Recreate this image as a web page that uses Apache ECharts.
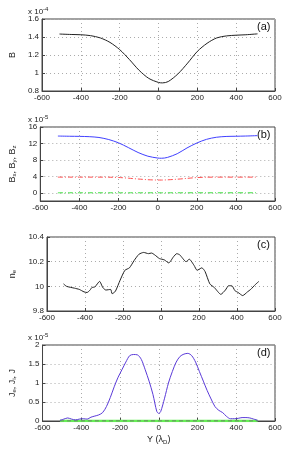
<!DOCTYPE html>
<html><head><meta charset="utf-8">
<script src="https://cdn.jsdelivr.net/npm/echarts@6/dist/echarts.min.js"></script>
<style>html,body{margin:0;padding:0;background:#fff}#c{width:285px;height:449px}</style>
</head><body><div id="c"></div>
<script>
// Panel (a): B (x 10^-4)
const xA = [-510,-450,-400,-350,-300,-250,-200,-150,-100,-50,0,20,50,100,150,200,250,300,350,400,450,510];
const bA = [1.433,1.428,1.425,1.415,1.39,1.34,1.26,1.15,1.03,0.94,0.895,0.89,0.905,0.99,1.11,1.24,1.33,1.39,1.412,1.42,1.425,1.435];
// Panel (b): Bx, By, Bz (x 10^-5)
const xB = [-510,-450,-400,-350,-300,-250,-200,-150,-100,-50,0,20,50,100,150,200,250,300,350,400,450,510];
const bzB = [13.8,13.75,13.72,13.65,13.45,12.95,12.15,11.0,9.8,8.9,8.45,8.4,8.6,9.5,10.9,12.1,13.0,13.5,13.7,13.75,13.8,13.9];
const byB = [3.8,3.8,3.8,3.8,3.8,3.78,3.72,3.55,3.35,3.18,3.1,3.1,3.15,3.3,3.5,3.7,3.78,3.8,3.8,3.8,3.8,3.8];
const bxB = [0,0,0,0,0,0,0,0,0,0,0,0,0,0,0,0,0,0,0,0,0,0];
// Panel (c): n_e
const xC = [-513,-497,-455,-430,-405,-389,-373,-364,-348,-323,-306,-290,-265,-257,-240,-215,-190,-166,-141,-116,-91,-66,-50,-33,-8,17,41,66,83,99,132,149,174,190,215,232,257,281,315,339,356,373,389,406,430,455,472,497,515];
const neC = [10.02,10.0,9.985,9.975,9.955,9.95,9.97,9.99,9.995,10.04,9.99,9.97,9.975,9.94,9.96,10.05,10.13,10.15,10.21,10.26,10.275,10.265,10.27,10.255,10.225,10.215,10.19,10.24,10.265,10.255,10.2,10.22,10.17,10.13,10.15,10.12,10.02,9.99,9.935,9.97,10.005,10.005,9.965,9.95,9.925,9.955,9.975,10.015,10.04];
// Panel (d): Je, Ji, J (x 10^-5)
const xD = [-510,-490,-470,-450,-430,-410,-390,-370,-350,-330,-310,-290,-270,-250,-230,-210,-190,-170,-150,-130,-110,-90,-70,-50,-30,-10,0,10,30,50,70,90,110,130,150,170,190,210,230,250,270,290,310,330,350,370,390,410,430,450,470,490,510];
const jD = [0.02,0.05,0.08,0.05,0.03,0.05,0.06,0.05,0.10,0.13,0.16,0.22,0.38,0.62,0.90,1.15,1.35,1.55,1.72,1.75,1.74,1.62,1.35,1.05,0.70,0.25,0.20,0.25,0.60,1.00,1.30,1.55,1.70,1.76,1.78,1.72,1.55,1.30,1.05,0.80,0.58,0.38,0.28,0.22,0.12,0.06,0.06,0.07,0.09,0.09,0.08,0.05,0.02];
const jiD = xD.map(() => 0);

const pair = (xs, ys) => xs.map((x, i) => [x, ys[i]]);
const FONT = 'Liberation Sans';
const fmt = v => String(Math.round(v * 1000) / 1000);

const grids = [
  {left: 33, top: 19, width: 242, height: 72},
  {left: 33, top: 127, width: 242, height: 74},
  {left: 33, top: 237, width: 242, height: 74},
  {left: 33, top: 345, width: 242, height: 76}
].map(g => Object.assign(g, {show: true, borderColor: '#444', borderWidth: 1, containLabel: false}));

const splitL = {show: true, lineStyle: {type: [1, 3], color: '#aaa', width: 1}};
const axLine = {show: true, onZero: false, lineStyle: {color: '#444', width: 1}};
const axLab = {color: '#222', fontFamily: FONT, fontSize: 8, margin: 3};

const xAxes = grids.map((g, i) => ({
  type: 'value', gridIndex: i, min: -600, max: 600, interval: 200,
  axisLine: axLine, axisTick: {inside: true, length: 3, lineStyle: {color: '#444'}},
  axisLabel: Object.assign({}, axLab, {formatter: v => String(v)}),
  splitLine: splitL,
  name: i === 3 ? '{n|Y (λ}{s|D}{n|)}' : '',
  nameLocation: 'middle', nameGap: 13,
  nameTextStyle: {rich: {n: {fontFamily: FONT, fontSize: 9, color: '#222'}, s: {fontFamily: FONT, fontSize: 6, color: '#222', padding: [5, 0, 0, 0]}}}
}));

const yRich = {n: {fontFamily: FONT, fontSize: 9, color: '#222'}, s: {fontFamily: FONT, fontSize: 6, color: '#222', padding: [4, 0, 0, 0]}};
const yAxes = [
  {min: 0.8, max: 1.6, interval: 0.2, name: '{n|B}', nameGap: 19},
  {min: -2, max: 16, name: '{n|B}{s|x}{n|, B}{s|y}{n|, B}{s|z}', nameGap: 17,
   axisLabel: Object.assign({}, axLab, {customValues: [0, 4, 8, 12, 16]}),
   axisTick: {inside: true, length: 3, customValues: [0, 4, 8, 12, 16], lineStyle: {color: '#444'}}},
  {min: 9.8, max: 10.4, interval: 0.2, name: '{n|n}{s|e}', nameGap: 23},
  {min: 0, max: 2, interval: 0.5, name: '{n|J}{s|e}{n|, J}{s|i}{n|, J}', nameGap: 19}
].map((y, i) => Object.assign({
  type: 'value', gridIndex: i, nameLocation: 'middle', nameRotate: 90,
  nameTextStyle: {rich: yRich},
  axisLine: axLine, axisTick: {inside: true, length: 3, lineStyle: {color: '#444'}},
  axisLabel: Object.assign({}, axLab, {formatter: fmt}),
  splitLine: splitL
}, y));

const line = (xi, data, color, extra) => Object.assign({
  type: 'line', xAxisIndex: xi, yAxisIndex: xi, data: data, showSymbol: false, smooth: 0.3,
  lineStyle: {color: color, width: 1}, itemStyle: {color: color}, silent: true, animation: false, z: 3
}, extra || {});

const series = [
  line(0, pair(xA, bA), '#222'),
  line(1, pair(xB, bzB), '#4040ff'),
  line(1, pair(xB, byB), '#ff4040', {lineStyle: {color: '#ff5050', width: 1, type: [5, 2, 1, 2]}}),
  line(1, pair(xB, bxB), '#33dd33', {lineStyle: {color: '#40e040', width: 1, type: [5, 2, 1, 2]}}),
  line(2, pair(xC, neC), '#222', {smooth: 0.2}),
  line(3, pair(xD, jiD), '#66ee55', {lineStyle: {color: '#66ee55', width: 2.5}, z: 2}),
  line(3, pair(xD, jiD), '#555', {lineStyle: {color: '#666', width: 1, type: [4, 3]}, z: 2}),
  line(3, pair(xD, jD), '#5a3ad8', {smooth: 0.3})
];

const expText = (x, y, e) => ({
  type: 'text', left: x, top: y,
  style: {text: '{n|x 10}{s|' + e + '}', rich: {n: {fontFamily: FONT, fontSize: 8, fill: '#222'}, s: {fontFamily: FONT, fontSize: 6, fill: '#222', padding: [0, 0, 6, 0]}}}
});
const panelText = (x, y, t) => ({
  type: 'text', left: x, top: y, style: {text: t, fontFamily: FONT, fontSize: 11, fill: '#111'}
});

const chart = echarts.init(document.getElementById('c'), null, {renderer: 'canvas'});
chart.setOption({
  animation: false,
  backgroundColor: '#fff',
  grid: grids, xAxis: xAxes, yAxis: yAxes, series: series,
  graphic: [
    expText(28, 6, '-4'), expText(28, 114, '-5'), expText(28, 332, '-5'),
    panelText(257, 21, '(a)'), panelText(257, 129, '(b)'), panelText(257, 239, '(c)'), panelText(257, 347, '(d)')
  ]
});
</script></body></html>
